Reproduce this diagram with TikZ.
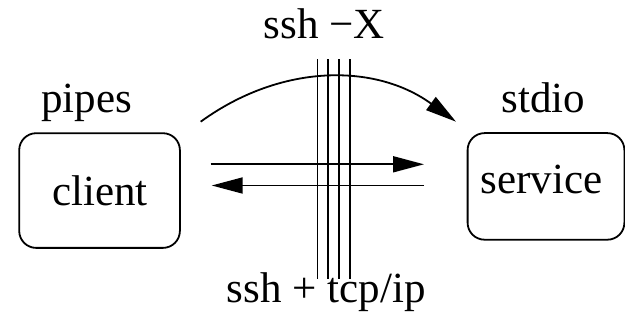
\documentclass[tikz,border=0pt]{standalone}
\usepackage{fontspec}
\setmainfont{Liberation Serif}
\newfontfamily\timesfam{Liberation Serif}
\usetikzlibrary{arrows.meta}
\tikzset{
  lbl/.style={anchor=base, inner sep=0pt, font=\timesfam\fontsize{43}{50}\selectfont},
  boxnode/.style={draw, line width=1.8pt, rounded corners=17pt, inner sep=0pt, anchor=north west},
  conn/.style={line width=1.8pt, -{Triangle[length=31pt,width=16pt]}},
  wire/.style={line width=1.8pt},
}
\begin{document}
\begin{tikzpicture}[x=1pt,y=-1pt]
\useasboundingbox (0,0) rectangle (625,323);
% boxes
\node[boxnode, minimum width=160.7pt, minimum height=114.7pt] (clientbox) at (18.3,132.3) {};
\node[boxnode, minimum width=156.8pt, minimum height=106.6pt] (servicebox) at (466.7,132.2) {};
% texts
\node[lbl] (client) at (99.8,206) {client};
\node[lbl] (service) at (541.5,193.3) {service};
\node[lbl] (pipes) at (86.5,113) {pipes};
\node[lbl] (stdio) at (543.3,112.3) {stdio};
\node[lbl] (sshx) at (324.5,38.3) {ssh −X};
\node[lbl] (sshtcp) at (326.3,302.3) {ssh + tcp/ip};
% vertical wires
\foreach \i/\x in {1/317.5,2/328.2,3/339,4/350}{
  \coordinate (wt\i) at (\x,59.3);
  \coordinate (wb\i) at (\x,279);
  \draw[wire] (wt\i) -- (wb\i);
}
% horizontal arrows
\coordinate (a1s) at (210.7,164.3);
\coordinate (a1e) at (424,164.3);
\coordinate (a2s) at (424,185.5);
\coordinate (a2e) at (211.7,185.5);
\draw[conn] (a1s) -- (a1e);
\draw[conn] (a2s) -- (a2e);
% curved arrow
\coordinate (cs) at (200.7,121.7);
\coordinate (ce) at (456,121.7);
\draw[conn] (cs) to[bend left=36] (ce);
\end{tikzpicture}
\end{document}
